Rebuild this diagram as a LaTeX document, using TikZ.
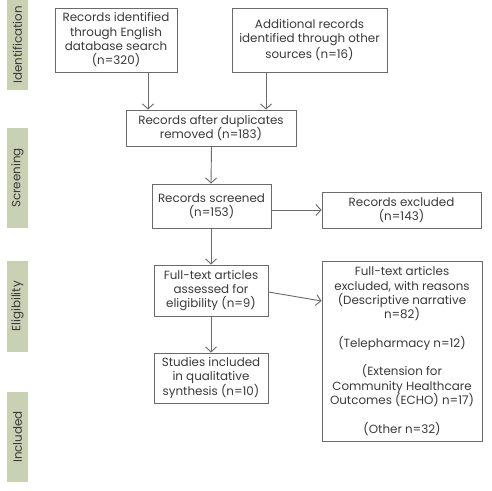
\documentclass[tikz,border=0pt]{standalone}
\usepackage{fontspec}
\setmainfont{Poppins}
\usetikzlibrary{arrows.meta}
\definecolor{barc}{HTML}{C9D1B5}
\definecolor{linec}{HTML}{6A6A6A}
\definecolor{txtc}{HTML}{3A3A3A}
\begin{document}
\begin{tikzpicture}[x=1pt,y=1pt,
  box/.style={draw=linec,line width=1pt,fill=white,align=center,text=txtc,inner sep=1pt,
    font=\fontsize{11.9}{14.3}\selectfont},
  arr/.style={draw=linec,line width=0.9pt,-{Straight Barb[length=5pt,width=11pt]}},
  bar/.style={fill=barc,draw=none,minimum width=21pt,text=txtc,rotate=90,
    font=\fontsize{11.9}{12}\selectfont,inner sep=0pt}]
\useasboundingbox[fill=white] (0,0) rectangle (492,-490);
% side bars
\node[bar,minimum width=90pt,minimum height=21pt] (b1) at (17.5,-45) {Identification};
\node[bar,minimum width=100pt,minimum height=21pt] (b2) at (17.5,-178) {Screening};
\node[bar,minimum width=91pt,minimum height=21pt] (b3) at (17.5,-306.5) {Eligibility};
\node[bar,minimum width=90pt,minimum height=21pt] (b4) at (17.5,-437) {Included};
% boxes
\node[box,minimum width=122pt,minimum height=64pt] (n1) at (116,-40)
  {Records identified\\through English\\database search\\(n=320)};
\node[box,minimum width=155pt,minimum height=64pt] (n2) at (309.5,-40)
  {Additional records\\identified through other\\sources (n=16)};
\node[box,minimum width=170pt,minimum height=36pt] (n3) at (211,-128)
  {Records after duplicates\\removed (n=183)};
\node[box,minimum width=119pt,minimum height=44pt] (n4) at (211.5,-206)
  {Records screened\\(n=153)};
\node[box,minimum width=159pt,minimum height=36pt] (n5) at (401.5,-210)
  {Records excluded\\(n=143)};
\node[box,minimum width=114pt,minimum height=51pt] (n6) at (211,-290.5)
  {Full-text articles\\assessed for\\eligibility (n=9)};
\node[box,minimum width=114pt,minimum height=50pt] (n7) at (211,-378)
  {Studies included\\in qualitative\\synthesis (n=10)};
\node[box,minimum width=160pt,minimum height=180pt] (n8) at (402,-351)
  {Full-text articles\\excluded, with reasons\\(Descriptive narrative\\n=82)\\[14.3pt]
   (Telepharmacy n=12)\\[14.3pt](Extension for\\Community Healthcare\\Outcomes (ECHO) n=17)\\[14.3pt](Other n=32)};
% connectors
\coordinate (c1) at (148,0);
\coordinate (c2) at (266,0);
\coordinate (c3) at (0,-210);
\coordinate (c4) at (0,-292);
\coordinate (c5) at (0,-301);
\draw[arr] (n1.south -| c1) -- (n3.north -| c1);
\draw[arr] (n2.south -| c2) -- (n3.north -| c2);
\draw[arr] (n3.south -| n4) -- (n4.north -| n3);
\draw[arr] (n4.east |- c3) -- (n5.west |- c3);
\draw[arr] (n4.south -| n6) -- (n6.north);
\draw[arr] (n6.east |- c4) -- (n8.west |- c5);
\draw[arr] (n6.south) -- (n7.north);
\end{tikzpicture}
\end{document}
